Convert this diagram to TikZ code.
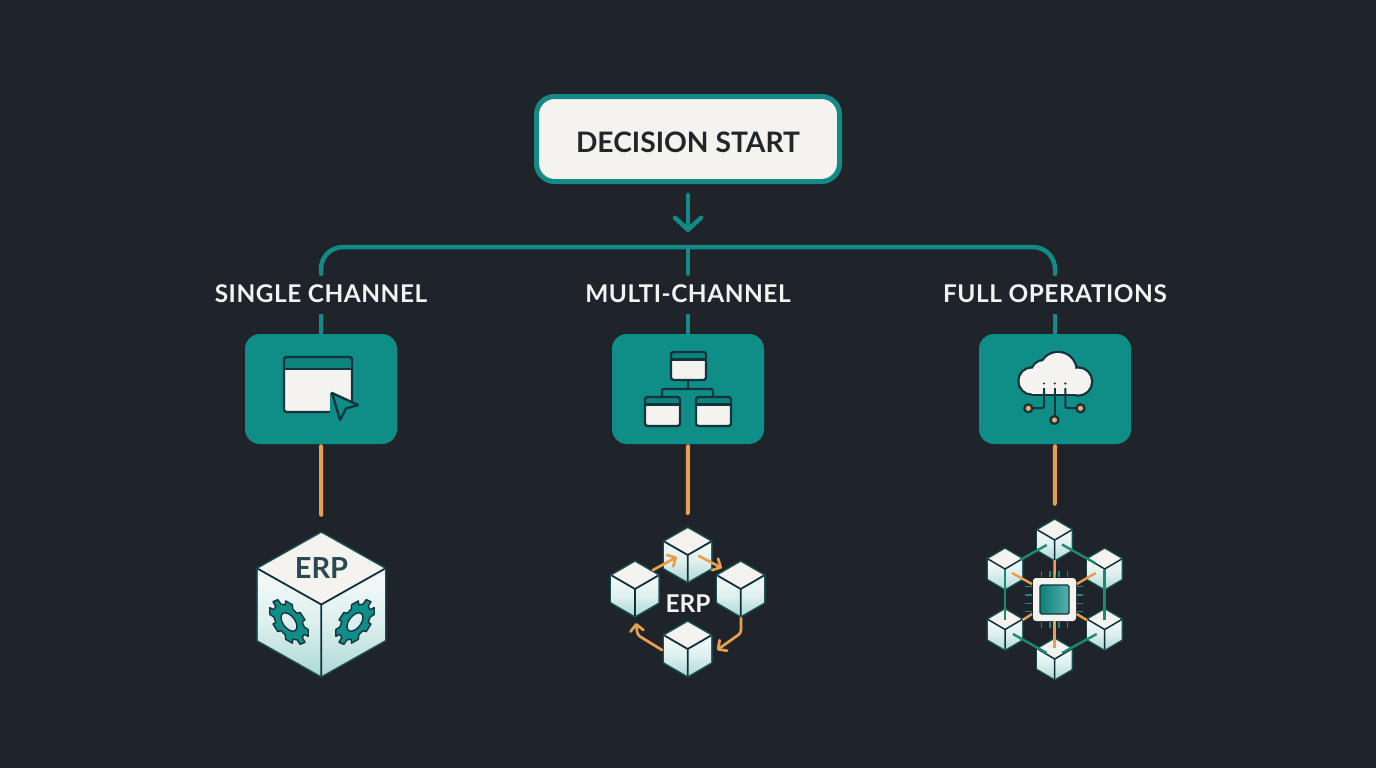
\documentclass[tikz,border=0pt]{standalone}
\usepackage{fontspec}
\setmainfont{Lato}
\newfontfamily\labelfont[LetterSpace=2.2]{Lato}
\usetikzlibrary{arrows.meta}
\definecolor{bgc}{HTML}{1F242B}
\definecolor{tealb}{HTML}{0E8E87}
\definecolor{tealline}{HTML}{138A85}
\definecolor{orangeb}{HTML}{E8A04C}
\definecolor{offw}{HTML}{F4F3EF}
\definecolor{inkd}{HTML}{12343F}
\definecolor{hexg}{HTML}{1A8A70}
\definecolor{erpc}{HTML}{2B4A50}
\definecolor{txtd}{HTML}{22262B}
\definecolor{txtl}{HTML}{F2F3F3}
\pgfdeclareverticalshading{cubeside}{100bp}{color(0bp)=(tealb!75!white); color(12bp)=(tealb!55!white); color(30bp)=(tealb!30!white); color(50bp)=(tealb!14!white); color(70bp)=(tealb!6!white); color(100bp)=(offw)}
\tikzset{
  startbox/.style={draw=tealline,fill=offw,line width=5pt,rounded corners=18pt,minimum width=303pt,minimum height=85pt,inner sep=0pt,text=txtd},
  lanelabel/.style={minimum width=230pt,minimum height=40pt,inner sep=0pt,text=txtl,font=\labelfont\fontsize{24.4}{25}\selectfont\bfseries},
  tealbox/.style={fill=tealb,rounded corners=15pt,minimum width=152pt,minimum height=110pt,inner sep=0pt},
  busline/.style={draw=tealline,line width=4.5pt,line cap=round},
  orangeline/.style={draw=orangeb,line width=4pt,line cap=round,shorten <=2pt},
  icon/.style={draw=inkd,line width=2.4pt,line join=round},
  orarrow/.style={draw=orangeb,line width=2.7pt,line cap=round,line join=round,-{Straight Barb[length=6.5pt,width=13pt,line width=2.7pt,round]}},
  hexl/.style={draw=hexg,line width=2.4pt},
  orl/.style={draw=orangeb,line width=2.4pt},
  pin/.style={draw=tealline,line width=1.4pt},
}
\newcommand{\cubeblock}[6]{%
  \node[minimum width=#4*2pt,minimum height=#5*2pt,inner sep=0pt] (#1) at (#2,#3) {};
  \begin{scope}[shift={(#2,#3)},x=#4pt,y=-#5pt]
    \draw[draw=tealline!45!bgc,line width=#6pt+1.2pt,line join=round] (0,-1)--(1,-.5)--(1,.5)--(0,1)--(-1,.5)--(-1,-.5)--cycle;
    \shade[shading=cubeside] (-1,-.5)--(0,0)--(0,1)--(-1,.5)--cycle;
    \shade[shading=cubeside] (1,-.5)--(0,0)--(0,1)--(1,.5)--cycle;
    \fill[offw] (0,-1)--(1,-.5)--(0,0)--(-1,-.5)--cycle;
    \draw[draw=inkd!90!black,line width=#6pt,line join=round] (-1,-.5)--(0,0)--(1,-.5) (0,0)--(0,1);
  \end{scope}}
\newcommand{\gearshape}{%
  \filldraw[fill=tealb,draw=inkd,line width=1.4pt,even odd rule,line join=round]
   (-14:15.5)
   \foreach \a in {0,45,...,315}{
     -- (\a-14:15.5) -- (\a-10:19.5) -- (\a+10:19.5) -- (\a+14:15.5) -- (\a+31:15.5)
   } -- cycle
   (0,0) circle (8);
}
\newcommand{\appwin}[5]{%
  \fill[tealb!92!black,rounded corners=2.5pt] (#1,#2) rectangle (#3,#4);
  \fill[offw] (#1,#5) rectangle (#3,#4);
  \draw[icon,rounded corners=2.5pt] (#1,#2) rectangle (#3,#4);
  \draw[icon] (#1,#5) -- (#3,#5);}
\begin{document}
\begin{tikzpicture}[x=1pt,y=-1pt]
\useasboundingbox (0,0) rectangle (1376,768);
\fill[bgc] (0,0) rectangle (1376,768);

% top
\node[startbox,font=\fontsize{28.2}{30}\selectfont\bfseries,text height=26pt,text depth=0pt] (start) at (688,139) {DECISION START};
\coordinate (hub) at (688,247);
\node[lanelabel] (lblS) at (321,294) {SINGLE CHANNEL};
\node[lanelabel] (lblM) at (688,294) {MULTI-CHANNEL};
\node[lanelabel] (lblF) at (1055,294) {FULL OPERATIONS};
\node[tealbox] (boxS) at (321,389) {};
\node[tealbox] (boxM) at (688,389) {};
\node[tealbox] (boxF) at (1055,389) {};

\draw[busline,shorten <=11pt,shorten >=15pt,-{Straight Barb[length=12pt,width=26pt,line width=4.5pt,round]}] (start) -- (hub);
\draw[busline,rounded corners=22pt] (lblS.north) |- (hub) -| (lblF.north);
\draw[busline] (hub) -- (lblM.north);
\draw[busline,line cap=butt] (lblS.south) -- (boxS.north);
\draw[busline,line cap=butt] (lblM.south) -- (boxM.north);
\draw[busline,line cap=butt] (lblF.south) -- (boxF.north);

% icon 1
\appwin{284}{357}{352}{412}{369}
\fill[tealb] (332,393) -- (355,403.5) -- (355,415) -- (330,415) -- (330,393) -- cycle;
\filldraw[icon,fill=tealb] (332,393) -- (358,405) -- (346,408.5) -- (340,420) -- cycle;

% icon 2
\draw[icon,rounded corners=2pt] (688,380) -- (688,389) (662,397) -- (662,389) -- (713,389) -- (713,397);
\appwin{671}{352}{706}{380}{359.5}
\appwin{645}{397}{680}{426}{404.5}
\appwin{696}{397}{731}{426}{404.5}

% icon 3
\begin{scope}
  \foreach \cx/\cy/\cr in {1032/381/12.5,1044/373/12,1058/370.5/17.5,1078/381.5/13}{
    \filldraw[draw=inkd,fill=offw,line width=4.6pt] (\cx,\cy) circle (\cr);
  }
  \draw[draw=inkd,line width=4.6pt] (1032,393.5) -- (1078,393.5);
  \foreach \cx/\cy/\cr in {1032/381/12.5,1044/373/12,1058/370.5/17.5,1078/381.5/13}{
    \fill[offw] (\cx,\cy) circle (\cr);
  }
  \fill[offw] (1032,378) rectangle (1078,393.5);
  \fill[inkd] (1044,383.5) circle (1.2) (1054.7,383.5) circle (1.2) (1065.3,383.5) circle (1.2);
  \draw[icon,rounded corners=2pt,line width=2pt] (1044,388) -- (1044,408) -- (1030,408);
  \draw[icon,line width=2pt] (1054.7,388) -- (1054.7,416);
  \draw[icon,rounded corners=2pt,line width=2pt] (1065.3,388) -- (1065.3,408) -- (1079,408);
  \filldraw[icon,fill=orangeb!85!white,line width=2.4pt] (1028.3,408.3) circle (4) (1054.5,420) circle (4) (1080.5,408.3) circle (4);
\end{scope}

% cube 1
\cubeblock{erpS}{321.3}{604.5}{63.5}{71.5}{1.8}
\node[inner sep=0pt,text=erpc,font=\fontsize{29}{30}\selectfont\bfseries] (erpSt) at (321.5,568) {ERP};
\begin{scope}[shift={(289,622)},cm={1,-.57,0,1,(0,0)}] \gearshape \end{scope}
\begin{scope}[shift={(355,622)},cm={1,.57,0,1,(0,0)}] \gearshape \end{scope}

% cube 2
\cubeblock{mT}{687.7}{555}{23.3}{26.7}{1.8}
\cubeblock{mL}{635}{589}{23.3}{27}{1.8}
\cubeblock{mR}{740.7}{589}{23.3}{27}{1.8}
\cubeblock{mB}{687.7}{649}{23.3}{27}{1.8}
\node[inner sep=0pt,text=txtl,font=\fontsize{24.5}{26}\selectfont\bfseries] (erpM) at (688,604) {ERP};
\coordinate (a1s) at (653,570); \coordinate (a1e) at (677,557);
\coordinate (a2s) at (699,556); \coordinate (a2e) at (722,568);
\coordinate (a3s) at (741,618); \coordinate (a3e) at (717,650);
\coordinate (a4s) at (662,650); \coordinate (a4e) at (636,623);
\draw[orarrow] (a1s) -- (a1e);
\draw[orarrow] (a2s) -- (a2e);
\draw[orarrow,rounded corners=3pt] (a3s) -- (741,633) -- (a3e);
\draw[orarrow,rounded corners=3pt] (a4s) -- (637.5,635) -- (a4e);

% cube 3
\cubeblock{fT}{1054.7}{540}{17}{20}{1.5}
\cubeblock{fUL}{1005}{569}{17}{20}{1.5}
\cubeblock{fUR}{1104.7}{569}{17}{20}{1.5}
\cubeblock{fLL}{1005}{629.5}{17}{20}{1.5}
\cubeblock{fLR}{1104.7}{629.5}{17}{20}{1.5}
\cubeblock{fB}{1054.7}{659}{17}{20}{1.5}
\node[fill=offw,rounded corners=3pt,minimum width=43pt,minimum height=43pt,inner sep=0pt] (chip) at (1054.5,599.5) {};
\shade[left color=tealb!90!black,right color=tealb!70!white,draw=inkd,line width=1.4pt,rounded corners=1.5pt] (1040,585) rectangle (1069,614);
\draw[hexl] (1020,560) -- (1046.7,545);
\draw[hexl] (1062,544.5) -- (1095,563);
\draw[hexl] (1005,570) -- (1005,620);
\draw[hexl] (1104.3,570) -- (1104.3,620);
\draw[hexl] (1013,634) -- (1046.7,653);
\draw[hexl] (1062,653) -- (1096.7,634);
\draw[orl] (fT) ++(0,20) -- (chip.north);
\draw[orl] (1012,573) -- (1032,584);
\draw[orl] (1095.7,573) -- (1076.7,584);
\draw[orl] (1022.7,620) -- (1032,614);
\draw[orl] (1086.7,620) -- (1076.7,614);
\draw[orl] (chip.south) -- (1054.5,648);
\foreach \p in {1041.7,1050,1059,1067.7}{
  \draw[pin] (\p,571) -- (\p,576.7);
  \draw[pin] (\p,621.7) -- (\p,627.7);
}
\foreach \p in {586.7,595,603.3,611.7}{
  \draw[pin] (1025,\p) -- (1032,\p);
  \draw[pin] (1076.7,\p) -- (1083.3,\p);
}

% orange connectors
\draw[orangeline,shorten >=18pt] (boxS.south) -- (erpS.north);
\draw[orangeline,shorten >=15pt] (boxM.south) -- (mT.north);
\draw[orangeline,shorten >=16pt] (boxF.south) -- (fT.north);
\end{tikzpicture}
\end{document}
